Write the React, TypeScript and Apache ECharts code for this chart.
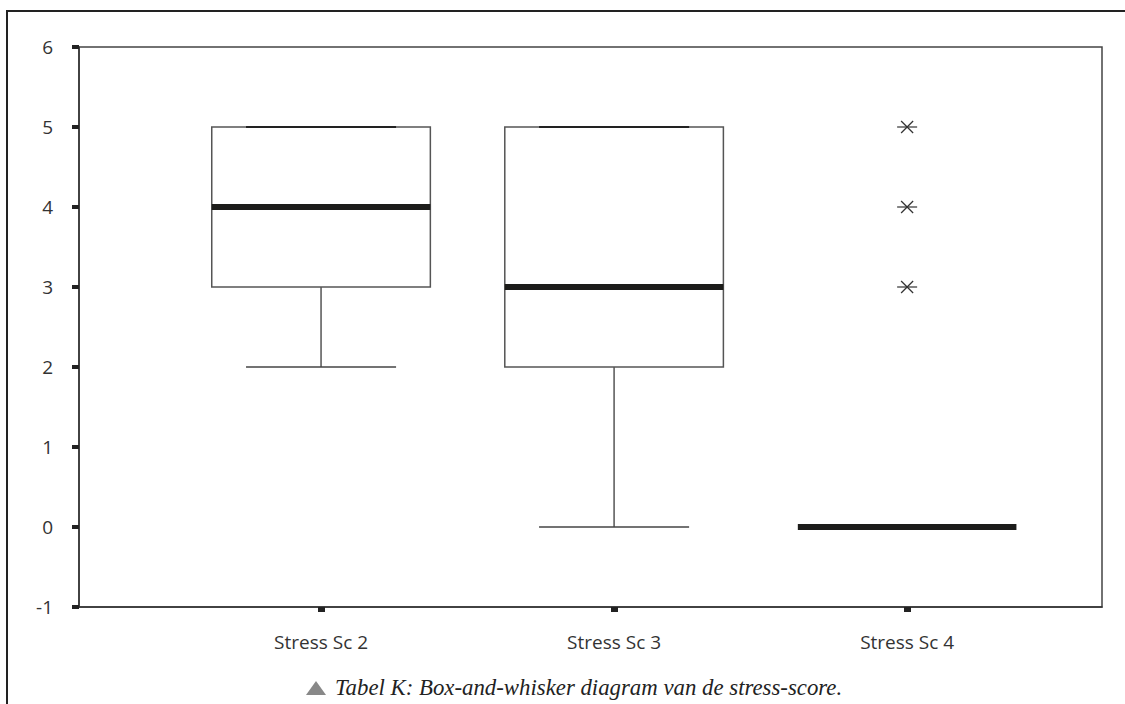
import React, { useEffect, useRef } from "react";
import * as echarts from "echarts";

const categories = ["Stress Sc 2", "Stress Sc 3", "Stress Sc 4"];
const categoryPos = [1, 2, 3];
const whiskerLow = [2, 0, 0];
const quartile1 = [3, 2, 0];
const medians = [4, 3, 0];
const quartile3 = [5, 5, 0];
const whiskerHigh = [5, 5, 0];
const outlierCategory = [3, 3, 3];
const outlierValues = [3, 4, 5];
const yTicks = [-1, 0, 1, 2, 3, 4, 5, 6];
const caption = "Tabel K: Box-and-whisker diagram van de stress-score.";

const BOX_HALF = 0.373;
const CAP_HALF = 0.256;

export default function App() {
  const ref = useRef<HTMLDivElement>(null);
  useEffect(() => {
    if (!ref.current) return;
    const chart = echarts.init(ref.current, null, { renderer: "svg" });
    const boxData = categoryPos.map((x, i) => [
      x,
      whiskerLow[i],
      quartile1[i],
      medians[i],
      quartile3[i],
      whiskerHigh[i],
    ]);
    const outlierData = outlierCategory.map((x, i) => [x, outlierValues[i]]);
    const option: any = {
      animation: false,
      backgroundColor: "#fff",
      grid: {
        left: 79,
        top: 47,
        right: 23,
        bottom: 97,
        show: true,
        borderColor: "#444",
        borderWidth: 1.5,
        backgroundColor: "transparent",
      },
      xAxis: {
        type: "value",
        min: 0.174,
        max: 3.665,
        splitLine: { show: false },
        axisLine: { show: true, onZero: false, lineStyle: { color: "#333", width: 1.5 } },
        axisTick: {
          show: true,
          customValues: categoryPos,
          length: 5,
          lineStyle: { color: "#222", width: 7 },
        },
        axisLabel: {
          customValues: categoryPos,
          formatter: (v: number) => categories[Math.round(v) - 1] ?? "",
          color: "#333",
          fontFamily: "Open Sans",
          fontSize: 19,
          margin: 25,
        },
      },
      yAxis: {
        type: "value",
        min: -1,
        max: 6,
        interval: 1,
        splitLine: { show: false },
        axisLine: { show: true, onZero: false, lineStyle: { color: "#333", width: 1.5 } },
        axisTick: {
          show: true,
          length: 7,
          lineStyle: { color: "#222", width: 4 },
        },
        axisLabel: {
          formatter: (v: number) => (yTicks.includes(v) ? String(v) : ""),
          color: "#333",
          fontFamily: "Open Sans",
          fontSize: 19,
          margin: 26,
        },
      },
      graphic: [
        {
          type: "rect",
          shape: { x: 7, y: 11, width: 1140, height: 720 },
          style: { fill: "none", stroke: "#222", lineWidth: 2 },
          silent: true,
        },
        {
          type: "polygon",
          shape: { points: [[306, 695], [326, 695], [316, 681]] },
          style: { fill: "#888" },
          silent: true,
        },
        {
          type: "text",
          x: 335,
          y: 687,
          style: {
            text: caption,
            fill: "#222",
            fontFamily: "'Liberation Serif', serif",
            fontStyle: "italic",
            fontSize: 22.8,
            verticalAlign: "middle",
            align: "left",
          },
          silent: true,
        },
      ],
      series: [
        {
          type: "custom",
          data: boxData,
          z: 3,
          renderItem: (params: any, api: any) => {
            const x = api.value(0);
            const lo = api.value(1);
            const q1 = api.value(2);
            const med = api.value(3);
            const q3 = api.value(4);
            const hi = api.value(5);
            const children: any[] = [];
            const thin = { stroke: "#555", lineWidth: 1.5, fill: "none" };
            if (q3 !== q1) {
              const tl = api.coord([x - BOX_HALF, q3]);
              const br = api.coord([x + BOX_HALF, q1]);
              children.push({
                type: "rect",
                shape: { x: tl[0], y: tl[1], width: br[0] - tl[0], height: br[1] - tl[1] },
                style: { ...thin, fill: "#fff" },
              });
            }
            if (lo < q1) {
              const a = api.coord([x, q1]);
              const b = api.coord([x, lo]);
              children.push({ type: "line", shape: { x1: a[0], y1: a[1], x2: b[0], y2: b[1] }, style: thin });
            }
            if (hi > q3) {
              const a = api.coord([x, q3]);
              const b = api.coord([x, hi]);
              children.push({ type: "line", shape: { x1: a[0], y1: a[1], x2: b[0], y2: b[1] }, style: thin });
            }
            if (q3 !== q1) {
              const l1 = api.coord([x - CAP_HALF, lo]);
              const r1 = api.coord([x + CAP_HALF, lo]);
              children.push({ type: "line", shape: { x1: l1[0], y1: l1[1], x2: r1[0], y2: r1[1] }, style: { stroke: "#444", lineWidth: 1.5 } });
              const l2 = api.coord([x - CAP_HALF, hi]);
              const r2 = api.coord([x + CAP_HALF, hi]);
              children.push({ type: "line", shape: { x1: l2[0], y1: l2[1], x2: r2[0], y2: r2[1] }, style: { stroke: "#222", lineWidth: 2 } });
            }
            const ml = api.coord([x - BOX_HALF, med]);
            const mr = api.coord([x + BOX_HALF, med]);
            children.push({
              type: "line",
              shape: { x1: ml[0], y1: ml[1], x2: mr[0], y2: mr[1] },
              style: { stroke: "#1c1c1a", lineWidth: 6 },
            });
            return { type: "group", children };
          },
        },
        {
          type: "custom",
          data: outlierData,
          z: 4,
          renderItem: (params: any, api: any) => {
            const p = api.coord([api.value(0), api.value(1)]);
            const st = { stroke: "#333", lineWidth: 1.2 };
            return {
              type: "group",
              children: [
                { type: "line", shape: { x1: p[0] - 10, y1: p[1], x2: p[0] + 10, y2: p[1] }, style: st },
                { type: "line", shape: { x1: p[0] - 6, y1: p[1] - 6, x2: p[0] + 6, y2: p[1] + 6 }, style: st },
                { type: "line", shape: { x1: p[0] - 6, y1: p[1] + 6, x2: p[0] + 6, y2: p[1] - 6 }, style: st },
              ],
            };
          },
        },
      ],
    };
    chart.setOption(option);
    return () => chart.dispose();
  }, []);
  return (
    <div
      ref={ref}
      style={{ position: "fixed", left: 0, top: 0, width: 1125, height: 704 }}
    />
  );
}
